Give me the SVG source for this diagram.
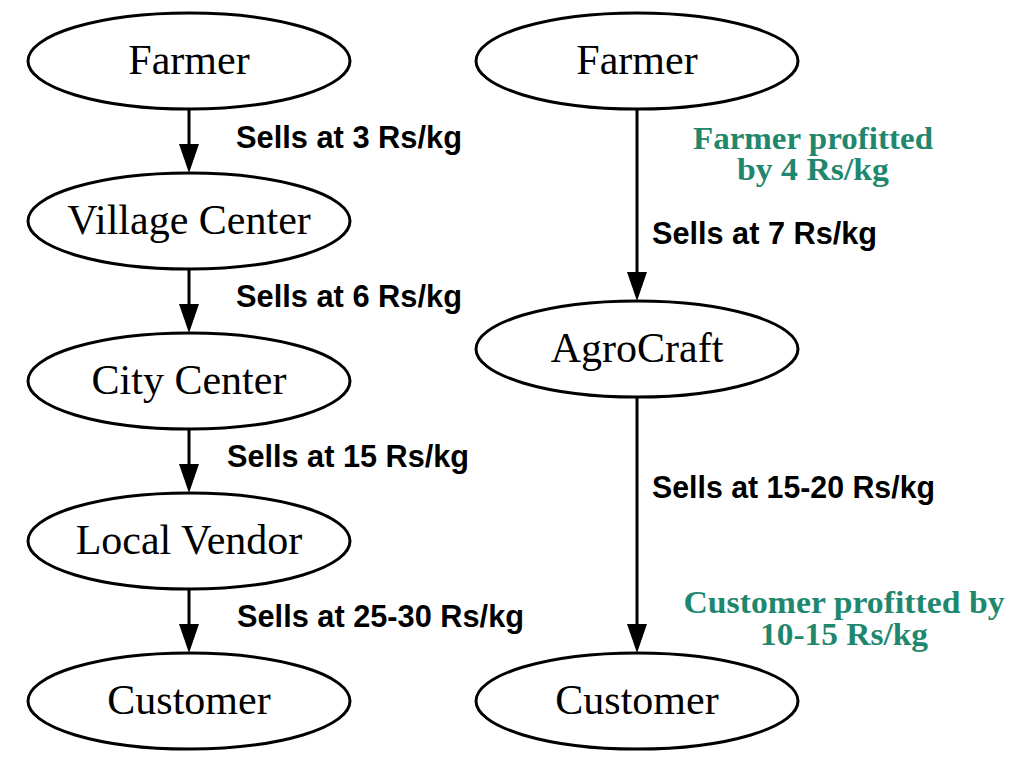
<svg xmlns="http://www.w3.org/2000/svg" width="1022" height="776" viewBox="0 0 1022 776">
<style>
  .node ellipse { fill: #ffffff; stroke: #000000; stroke-width: 3; }
  .node text { font-family: "Liberation Serif", "DejaVu Serif", serif; font-size: 42px; fill: #000000; text-anchor: middle; }
  .edge line { stroke: #000000; stroke-width: 3; }
  .elabel { font-family: "Liberation Sans", Arial, sans-serif; font-weight: bold; font-size: 30.5px; fill: #000000; }
  .note { font-family: "Liberation Serif", "DejaVu Serif", serif; font-weight: bold; font-size: 31px; fill: #1f876e; text-anchor: middle; }
</style>
<defs>
  <marker id="arrow" markerUnits="userSpaceOnUse" markerWidth="30" markerHeight="20" refX="0" refY="10" orient="auto">
    <path d="M0,0 L29,10 L0,20 z" fill="#000000"/>
  </marker>
</defs>
<rect width="1022" height="776" fill="#ffffff"/>

<g id="connectors">
  <g class="edge" id="e1"><line x1="189" y1="109" x2="189" y2="144" marker-end="url(#arrow)"/></g>
  <g class="edge" id="e2"><line x1="189" y1="269" x2="189" y2="304" marker-end="url(#arrow)"/></g>
  <g class="edge" id="e3"><line x1="189" y1="429" x2="189" y2="464" marker-end="url(#arrow)"/></g>
  <g class="edge" id="e4"><line x1="189" y1="589" x2="189" y2="624" marker-end="url(#arrow)"/></g>
  <g class="edge" id="e5"><line x1="637" y1="109" x2="637" y2="272" marker-end="url(#arrow)"/></g>
  <g class="edge" id="e6"><line x1="637" y1="397" x2="637" y2="624" marker-end="url(#arrow)"/></g>
  <text class="elabel" x="236" y="148" textLength="226" lengthAdjust="spacingAndGlyphs">Sells at 3 Rs/kg</text>
  <text class="elabel" x="236" y="307" textLength="226" lengthAdjust="spacingAndGlyphs">Sells at 6 Rs/kg</text>
  <text class="elabel" x="227" y="467" textLength="242" lengthAdjust="spacingAndGlyphs">Sells at 15 Rs/kg</text>
  <text class="elabel" x="237" y="627" textLength="287" lengthAdjust="spacingAndGlyphs">Sells at 25-30 Rs/kg</text>
  <text class="elabel" x="652" y="244" textLength="225" lengthAdjust="spacingAndGlyphs">Sells at 7 Rs/kg</text>
  <text class="elabel" x="652" y="498" textLength="283" lengthAdjust="spacingAndGlyphs">Sells at 15-20 Rs/kg</text>
</g>

<g id="notes">
  <text class="note" x="813" y="149" textLength="240" lengthAdjust="spacingAndGlyphs">Farmer profitted</text>
  <text class="note" x="813" y="180" textLength="152" lengthAdjust="spacingAndGlyphs">by 4 Rs/kg</text>
  <text class="note" x="844" y="613" textLength="321" lengthAdjust="spacingAndGlyphs">Customer profitted by</text>
  <text class="note" x="844" y="645" textLength="168" lengthAdjust="spacingAndGlyphs">10-15 Rs/kg</text>
</g>

<g class="node" id="farmer_left"><ellipse cx="189" cy="61" rx="161" ry="48"/><text x="189" y="74">Farmer</text></g>
<g class="node" id="village_center"><ellipse cx="189" cy="221" rx="161" ry="48"/><text x="189" y="234">Village Center</text></g>
<g class="node" id="city_center"><ellipse cx="189" cy="381" rx="161" ry="48"/><text x="189" y="394">City Center</text></g>
<g class="node" id="local_vendor"><ellipse cx="189" cy="541" rx="161" ry="48"/><text x="189" y="554">Local Vendor</text></g>
<g class="node" id="customer_left"><ellipse cx="189" cy="701" rx="161" ry="48"/><text x="189" y="714">Customer</text></g>

<g class="node" id="farmer_right"><ellipse cx="637" cy="61" rx="161" ry="48"/><text x="637" y="74">Farmer</text></g>
<g class="node" id="agrocraft"><ellipse cx="637" cy="349" rx="161" ry="48"/><text x="637" y="362">AgroCraft</text></g>
<g class="node" id="customer_right"><ellipse cx="637" cy="701" rx="161" ry="48"/><text x="637" y="714">Customer</text></g>
</svg>
